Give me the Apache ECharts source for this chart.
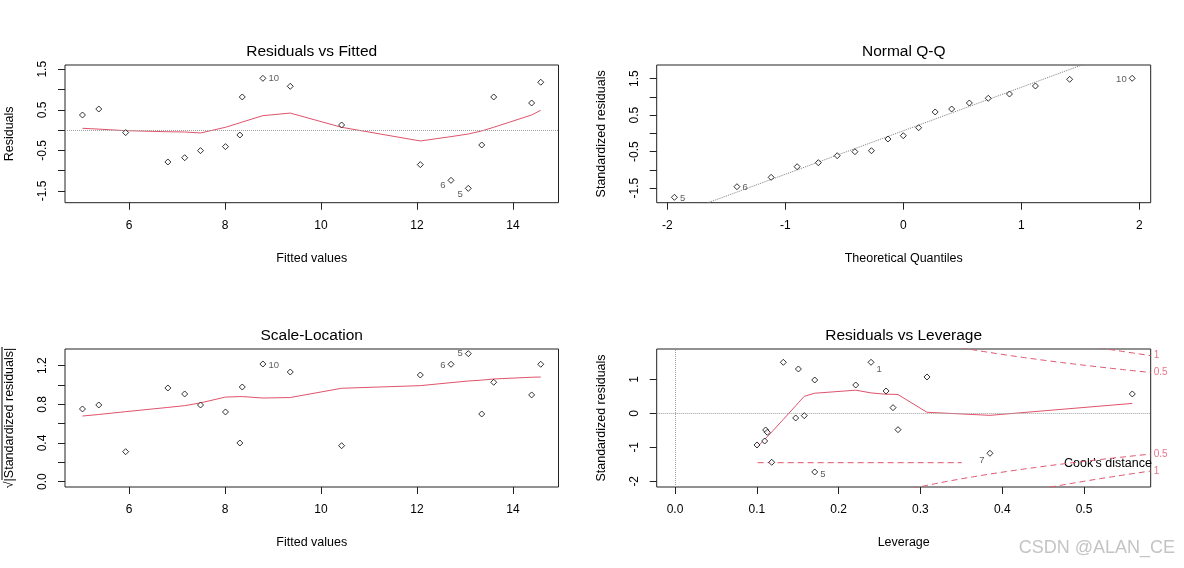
<!DOCTYPE html>
<html><head><meta charset="utf-8">
<script src="https://cdn.jsdelivr.net/npm/echarts@6/dist/echarts.min.js"></script>
<style>html,body{margin:0;padding:0;background:#fff}#chart{width:1184px;height:568px}</style>
</head><body><div id="chart"></div>
<script>
// ---------- data ----------
const fittedValues = [5.03, 5.37, 5.93, 6.81, 7.16, 7.49, 8.01, 8.31, 8.36, 8.79, 9.36, 10.43, 12.07, 12.71, 13.07, 13.35, 13.60, 14.39, 14.58];
const residuals = [0.373, 0.52, -0.06, -0.785, -0.68, -0.505, -0.407, -0.12, 0.817, 1.277, 1.08, 0.127, -0.85, -1.237, -1.435, -0.366, 0.817, 0.669, 1.18];
const residualSmooth = [0.045, 0.025, -0.013, -0.04, -0.045, -0.07, 0.07, 0.18, 0.20, 0.357, 0.42, 0.07, -0.267, -0.16, -0.095, -0.02, 0.07, 0.373, 0.489];
const residualIdIndex = [9, 13, 14];
const residualIdText = ['10', '6', '5'];

const theoreticalQuantiles = [-1.94, -1.41, -1.12, -0.90, -0.72, -0.56, -0.41, -0.27, -0.13, 0.00, 0.13, 0.27, 0.41, 0.56, 0.72, 0.90, 1.12, 1.41, 1.94];
const sortedStdResiduals = [-1.753, -1.463, -1.206, -0.915, -0.805, -0.614, -0.504, -0.477, -0.156, -0.066, 0.153, 0.584, 0.666, 0.830, 0.959, 1.077, 1.296, 1.479, 1.507];
const qqIdIndex = [0, 1, 18];
const qqIdText = ['5', '6', '10'];
const qqLineIntercept = 0.069;
const qqLineSlope = 1.191;

const sqrtAbsStdResiduals = [0.752, 0.793, 0.310, 0.969, 0.907, 0.793, 0.721, 0.400, 0.979, 1.217, 1.134, 0.372, 1.103, 1.214, 1.324, 0.700, 1.028, 0.897, 1.214];
const scaleLocationSmooth = [0.679, 0.695, 0.724, 0.768, 0.786, 0.815, 0.875, 0.880, 0.880, 0.865, 0.870, 0.966, 0.993, 1.024, 1.041, 1.050, 1.062, 1.080, 1.082];
const slIdIndex = [9, 13, 14];
const slIdText = ['10', '6', '5'];

const leverage = [0.1002, 0.1096, 0.1108, 0.1128, 0.1182, 0.1324, 0.1475, 0.1508, 0.1580, 0.1708, 0.1708, 0.2209, 0.2396, 0.2580, 0.2665, 0.2726, 0.3080, 0.3850, 0.5590];
const leverageStdResiduals = [-0.932, -0.815, -0.491, -0.559, -1.441, 1.50, -0.138, 1.303, -0.070, 0.979, -1.726, 0.832, 1.50, 0.656, 0.165, -0.482, 1.068, -1.176, 0.568];
const leverageSmooth = [-1.00, -0.77, -0.74, -0.69, -0.55, -0.18, 0.22, 0.31, 0.50, 0.59, 0.59, 0.68, 0.60, 0.56, 0.56, 0.55, 0.03, -0.06, 0.29];
const levIdIndex = [10, 12, 17];
const levIdText = ['5', '1', '7'];
const cookLevels = [0.5, 1];
const cookParamCount = 4;
const cookLegendSegment = [[0.101, -1.453], [0.3505, -1.453]];

// tick values
const fittedTicks = [6, 8, 10, 12, 14];
const residTicks = [-1.5, -1, -0.5, 0, 0.5, 1, 1.5];
const residTickLabels = [-1.5, -0.5, 0.5, 1.5];
const qqXTicks = [-2, -1, 0, 1, 2];
const slTicks = [0, 0.2, 0.4, 0.6, 0.8, 1.0, 1.2];
const slTickLabels = [0, 0.4, 0.8, 1.2];
const levXTicks = [0, 0.1, 0.2, 0.3, 0.4, 0.5];
const levYTicks = [-2, -1, 0, 1];

// ---------- layout / style ----------
const FONT = '"Liberation Sans", Arial, sans-serif';
const RED = '#DF536B';
const INK = '#222';
const grids = [
  {left: 65, top: 65, width: 493.5, height: 137.7},
  {left: 656.7, top: 65, width: 494, height: 137.7},
  {left: 65, top: 349, width: 493.5, height: 138},
  {left: 656.7, top: 349, width: 494, height: 138}
];
const ranges = {
  x: [[4.666, 14.95], [-2.09, 2.097], [4.666, 14.95], [-0.0224, 0.5815]],
  y: [[-1.788, 1.605], [-1.901, 1.871], [-0.055, 1.372], [-2.168, 1.891]]
};

function xAxis(i, ticks, labels, name, fmt) {
  return {
    type: 'value', gridIndex: i, position: 'bottom', min: ranges.x[i][0], max: ranges.x[i][1],
    name: name, nameLocation: 'middle', nameGap: 49,
    nameTextStyle: {fontFamily: FONT, fontSize: 12.5, color: '#000'},
    axisLine: {show: false, onZero: false},
    axisTick: {show: true, inside: false, length: 7, customValues: ticks, lineStyle: {color: INK, width: 1}},
    axisLabel: {show: true, customValues: labels, margin: 17, fontFamily: FONT, fontSize: 12, color: '#000',
      formatter: fmt || (v => String(v))},
    splitLine: {show: false}
  };
}
function yAxis(i, ticks, labels, name, fmt) {
  return {
    type: 'value', gridIndex: i, position: 'left', min: ranges.y[i][0], max: ranges.y[i][1],
    name: name, nameLocation: 'middle', nameGap: 49, nameRotate: 90,
    nameTextStyle: {fontFamily: FONT, fontSize: 12.5, color: '#000'},
    axisLine: {show: false, onZero: false},
    axisTick: {show: true, inside: false, length: 7, customValues: ticks, lineStyle: {color: INK, width: 1}},
    axisLabel: {show: true, customValues: labels, rotate: 90, margin: 16, fontFamily: FONT, fontSize: 12, color: '#000',
      formatter: fmt || (v => String(v))},
    splitLine: {show: false}
  };
}

function pointData(xs, ys, idIdx, idText, placement) {
  return xs.map((x, k) => {
    const item = {value: [x, ys[k]]};
    const j = idIdx.indexOf(k);
    if (j >= 0) {
      const p = placement[j];
      item.label = {show: true, formatter: idText[j], position: p[0], distance: 2, offset: [0, p[1]],
        fontFamily: FONT, fontSize: 9.5, color: '#333'};
    }
    return item;
  });
}
function scatter(i, data) {
  return {type: 'scatter', xAxisIndex: i, yAxisIndex: i, data: data, symbol: 'diamond', symbolSize: 6,
    itemStyle: {color: '#fff', borderColor: '#000', borderWidth: 1}, silent: true, z: 5, animation: false};
}
function line(i, data, color, type, z) {
  return {type: 'line', xAxisIndex: i, yAxisIndex: i, data: data, showSymbol: false, symbol: 'none',
    lineStyle: {color: color, width: 1, type: type || 'solid'}, clip: true, silent: true, z: z || 3, animation: false};
}
function refLines(i, items) {
  return {type: 'line', xAxisIndex: i, yAxisIndex: i, data: [], silent: true, animation: false,
    markLine: {silent: true, symbol: ['none', 'none'], label: {show: false}, animation: false,
      lineStyle: {type: 'dotted', color: '#a0a0a0', width: 1}, data: items}};
}
const zip = (a, b) => a.map((v, k) => [v, b[k]]);

// Cook's distance contours
const cookSeries = [];
const cookLabelData = [];
const hMax = ranges.x[3][1];
cookLevels.forEach(lev => {
  const up = [], dn = [];
  for (let k = 0; k <= 200; k++) {
    const h = 0.05 + (hMax - 0.05) * k / 200;
    const v = Math.sqrt(lev * cookParamCount * (1 - h) / h);
    up.push([h, v]); dn.push([h, -v]);
  }
  cookSeries.push(line(3, up, RED, [6, 4], 2), line(3, dn, RED, [6, 4], 2));
  const vEnd = Math.sqrt(lev * cookParamCount * (1 - hMax) / hMax);
  cookLabelData.push([hMax, vEnd, String(lev)], [hMax, -vEnd, String(lev)]);
});

const option = {
  animation: false,
  backgroundColor: '#fff',
  grid: grids.map(g => Object.assign({show: true, borderColor: INK, borderWidth: 1, backgroundColor: 'transparent', containLabel: false}, g)),
  xAxis: [
    xAxis(0, fittedTicks, fittedTicks, 'Fitted values'),
    xAxis(1, qqXTicks, qqXTicks, 'Theoretical Quantiles'),
    xAxis(2, fittedTicks, fittedTicks, 'Fitted values'),
    xAxis(3, levXTicks, levXTicks, 'Leverage', v => v.toFixed(1))
  ],
  yAxis: [
    yAxis(0, residTicks, residTickLabels, 'Residuals'),
    yAxis(1, residTicks, residTickLabels, 'Standardized residuals'),
    yAxis(2, slTicks, slTickLabels, '√|Standardized residuals|', v => v.toFixed(1)),
    yAxis(3, levYTicks, levYTicks, 'Standardized residuals')
  ],
  series: [
    // Residuals vs Fitted
    refLines(0, [{yAxis: 0}]),
    line(0, zip(fittedValues, residualSmooth), RED),
    scatter(0, pointData(fittedValues, residuals, residualIdIndex, residualIdText, [['right', 0], ['left', 5], ['left', 6]])),
    // Normal Q-Q
    line(1, [[ranges.x[1][0], qqLineIntercept + qqLineSlope * ranges.x[1][0]], [ranges.x[1][1], qqLineIntercept + qqLineSlope * ranges.x[1][1]]], '#7f7f7f', 'dotted'),
    scatter(1, pointData(theoreticalQuantiles, sortedStdResiduals, qqIdIndex, qqIdText, [['right', 1], ['right', 1], ['left', 1]])),
    // Scale-Location
    line(2, zip(fittedValues, scaleLocationSmooth), RED),
    scatter(2, pointData(fittedValues, sqrtAbsStdResiduals, slIdIndex, slIdText, [['right', 1], ['left', 1], ['left', 0]])),
    // Residuals vs Leverage
    refLines(3, [{yAxis: 0}, {xAxis: 0}]),
    ...cookSeries,
    line(3, cookLegendSegment, RED, [6, 4], 2),
    line(3, zip(leverage, leverageSmooth), RED),
    scatter(3, pointData(leverage, leverageStdResiduals, levIdIndex, levIdText, [['right', 2], ['right', 7], ['left', 7]])),
    {type: 'scatter', xAxisIndex: 3, yAxisIndex: 3, data: cookLabelData, symbolSize: 0, silent: true, clip: false, animation: false,
      label: {show: true, position: 'right', distance: 3, formatter: p => p.value[2], fontFamily: FONT, fontSize: 10, color: RED}}
  ],
  graphic: [
    {type: 'text', x: 311.7, y: 52, style: {text: 'Residuals vs Fitted', fontFamily: FONT, fontSize: 15.5, fill: '#000', align: 'center', verticalAlign: 'middle'}},
    {type: 'text', x: 903.7, y: 52, style: {text: 'Normal Q-Q', fontFamily: FONT, fontSize: 15.5, fill: '#000', align: 'center', verticalAlign: 'middle'}},
    {type: 'text', x: 311.7, y: 336, style: {text: 'Scale-Location', fontFamily: FONT, fontSize: 15.5, fill: '#000', align: 'center', verticalAlign: 'middle'}},
    {type: 'text', x: 903.7, y: 336, style: {text: 'Residuals vs Leverage', fontFamily: FONT, fontSize: 15.5, fill: '#000', align: 'center', verticalAlign: 'middle'}},
    {type: 'text', x: 1064, y: 463.5, style: {text: "Cook's distance", fontFamily: FONT, fontSize: 12.5, fill: '#000', align: 'left', verticalAlign: 'middle'}},
    {type: 'line', shape: {x1: 2, y1: 347, x2: 2, y2: 480}, style: {stroke: '#000', lineWidth: 1}},
    {type: 'text', x: 1175, y: 548, style: {text: 'CSDN @ALAN_CE', fontFamily: FONT, fontSize: 18, fill: '#c4c4c4', align: 'right', verticalAlign: 'middle'}}
  ]
};
const chart = echarts.init(document.getElementById('chart'), null, {renderer: 'canvas'});
chart.setOption(option);
</script></body></html>
